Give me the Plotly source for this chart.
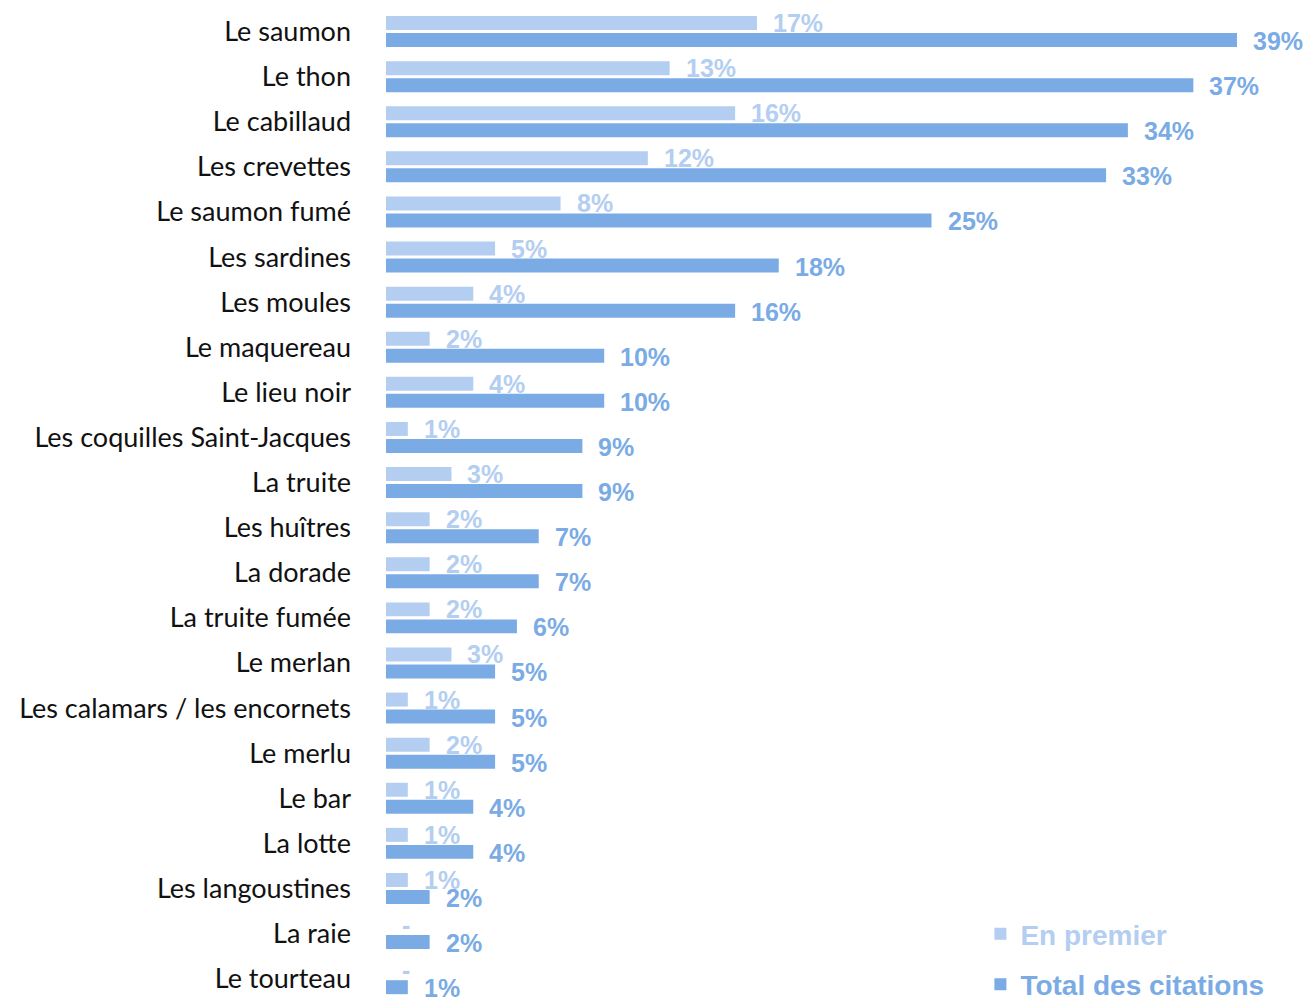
import plotly.graph_objects as go

categories = ["Le saumon", "Le thon", "Le cabillaud", "Les crevettes", "Le saumon fumé",
              "Les sardines", "Les moules", "Le maquereau", "Le lieu noir",
              "Les coquilles Saint-Jacques", "La truite", "Les huîtres", "La dorade",
              "La truite fumée", "Le merlan", "Les calamars / les encornets", "Le merlu",
              "Le bar", "La lotte", "Les langoustines", "La raie", "Le tourteau"]
en_premier = [17, 13, 16, 12, 8, 5, 4, 2, 4, 1, 3, 2, 2, 2, 3, 1, 2, 1, 1, 1, 0, 0]
total_citations = [39, 37, 34, 33, 25, 18, 16, 10, 10, 9, 9, 7, 7, 6, 5, 5, 5, 4, 4, 2, 2, 1]

LIGHT = "#b3cef1"
DARK = "#7aabe5"
BAR_W = 0.31

fig = go.Figure()
fig.add_trace(go.Bar(
    y=categories, x=en_premier, orientation="h", name=f"<span style='color:{LIGHT}'>En premier</span>",
    marker=dict(color=LIGHT, line=dict(width=0)), width=BAR_W, offset=-0.344,
    legendgroup="a", hoverinfo="skip"))
fig.add_trace(go.Bar(
    y=categories, x=total_citations, orientation="h",
    name=f"<span style='color:{DARK}'>Total des citations</span>",
    marker=dict(color=DARK, line=dict(width=0)), width=BAR_W, offset=0.033,
    legendgroup="b", hoverinfo="skip"))

annotations = []
for i, v in enumerate(en_premier):
    annotations.append(dict(
        x=v, y=i - 0.19, xref="x", yref="y", text=(f"{v}%" if v > 0 else "-"),
        showarrow=False, xanchor="left", yanchor="middle", xshift=14,
        font=dict(family="Liberation Sans, Arial", size=25, color=LIGHT, weight="bold")))
for i, v in enumerate(total_citations):
    annotations.append(dict(
        x=v, y=i + 0.21, xref="x", yref="y", text=f"{v}%",
        showarrow=False, xanchor="left", yanchor="middle", xshift=14,
        font=dict(family="Liberation Sans, Arial", size=25, color=DARK, weight="bold")))

fig.update_layout(
    width=1309, height=999,
    margin=dict(l=386, r=0, t=0, b=0, autoexpand=False),
    paper_bgcolor="white", plot_bgcolor="white",
    barmode="overlay",
    showlegend=True,
    legend=dict(x=0.644, y=0.04, xanchor="left", yanchor="middle",
                font=dict(family="Liberation Sans, Arial", size=28, weight="bold"),
                tracegroupgap=11, traceorder="grouped", bgcolor="rgba(0,0,0,0)"),
    annotations=annotations,
    xaxis=dict(range=[0, 42.3], visible=False),
    yaxis=dict(type="category", range=[21.45, -0.70], showgrid=False, showline=False,
               ticks="", ticklabelstandoff=34,
               tickfont=dict(family="Lato, Noto Sans", size=27, color="#111111")),
)

fig.write_html("out.html", config={"displayModeBar": False},
               post_script="document.body.style.margin='0';")
